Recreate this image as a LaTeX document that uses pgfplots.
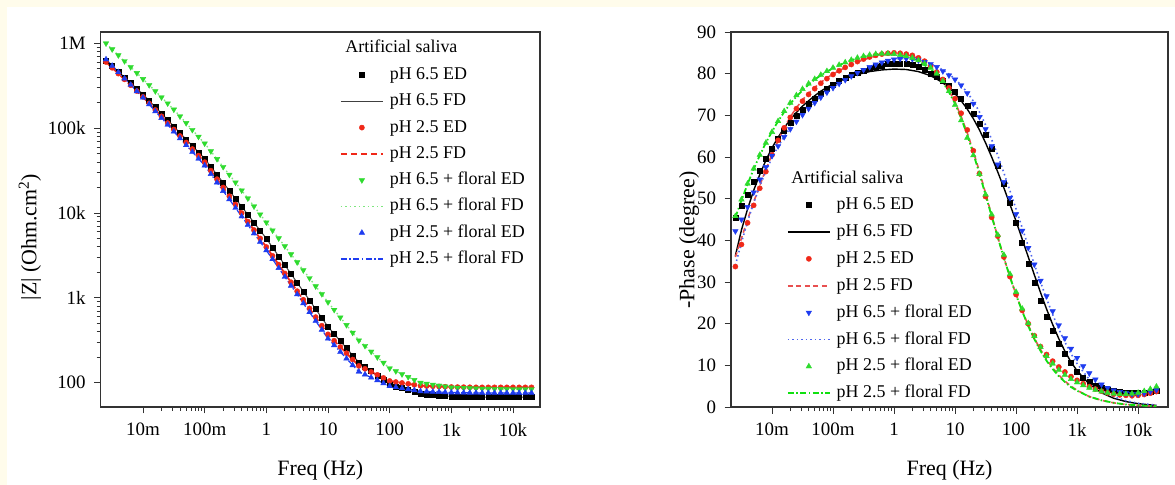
\documentclass[border=0pt]{standalone}
\usepackage{pgfplots}
\pgfplotsset{compat=1.18}
\usepackage{pgfplotstable}
\usepackage{fontspec}
\setmainfont{Liberation Serif}
\definecolor{cream}{HTML}{FFFCEB}
\definecolor{dred}{HTML}{F02818}
\definecolor{dgreen}{HTML}{2EDB2E}
\definecolor{dblue}{HTML}{1E3CF0}
\definecolor{lgreen}{HTML}{7EE67E}
\definecolor{pinkred}{HTML}{E85050}
\definecolor{paleblue}{HTML}{4F66EE}
\definecolor{fitgreen}{HTML}{10E010}
\definecolor{axisgray}{HTML}{333333}

% |Z| (Ohm.cm^2) vs frequency (Hz)
\pgfplotstableread{
f B R G L
2.512e-3 6.31e5 6.03e5 1.00e6 6.46e5
3.162e-3 5.41e5 5.15e5 8.51e5 5.43e5
3.981e-3 4.65e5 4.40e5 7.24e5 4.57e5
5.012e-3 3.98e5 3.76e5 6.17e5 3.85e5
6.310e-3 3.41e5 3.21e5 5.25e5 3.24e5
7.943e-3 2.93e5 2.74e5 4.47e5 2.72e5
1.000e-2 2.51e5 2.34e5 3.80e5 2.29e5
1.259e-2 2.11e5 1.96e5 3.22e5 1.91e5
1.585e-2 1.77e5 1.64e5 2.73e5 1.58e5
1.995e-2 1.49e5 1.38e5 2.31e5 1.32e5
2.512e-2 1.25e5 1.15e5 1.96e5 1.10e5
3.162e-2 1.05e5 9.66e4 1.66e5 9.12e4
3.981e-2 8.79e4 8.09e4 1.38e5 7.59e4
5.012e-2 7.38e4 6.78e4 1.15e5 6.31e4
6.310e-2 6.19e4 5.68e4 9.55e4 5.25e4
7.943e-2 5.20e4 4.75e4 7.94e4 4.37e4
0.1 4.37e4 3.98e4 6.61e4 3.63e4
0.1259 3.52e4 3.16e4 5.35e4 2.88e4
0.1585 2.83e4 2.51e4 4.33e4 2.29e4
0.1995 2.28e4 2.00e4 3.50e4 1.82e4
0.2512 1.84e4 1.58e4 2.83e4 1.45e4
0.3162 1.48e4 1.26e4 2.29e4 1.15e4
0.3981 1.19e4 1.00e4 1.85e4 9.12e3
0.5012 9.59e3 7.94e3 1.49e4 7.24e3
0.6310 7.73e3 6.31e3 1.20e4 5.75e3
0.7943 6.22e3 5.01e3 9.64e3 4.57e3
1 5.01e3 3.98e3 7.76e3 3.63e3
1.259 3.94e3 3.13e3 6.25e3 2.86e3
1.585 3.10e3 2.47e3 5.04e3 2.25e3
1.995 2.44e3 1.94e3 4.06e3 1.77e3
2.512 1.92e3 1.53e3 3.27e3 1.39e3
3.162 1.51e3 1.20e3 2.63e3 1.10e3
3.981 1190 951 2120 863
5.012 938 752 1710 679
6.310 738 594 1370 535
7.943 581 470 1110 421
10 457 372 891 331
12.59 377 313 724 277
15.85 310 264 589 231
19.95 256 223 479 193
25.12 211 188 389 161
31.62 174 158 316 135
39.81 154 146 272 125
50.12 137 134 233 115
63.10 121 124 200 107
79.43 108 114 172 98.6
100 95.5 105 148 91.2
125.9 90.8 102 137 88.7
158.5 86.3 99.5 126 86.3
199.5 82.0 97.1 117 83.9
251.2 78.0 94.6 108 81.7
316.2 74.1 92.3 100 79.4
398.1 73.1 91.6 97.5 78.9
501.2 72.1 91.0 95.1 78.3
631.0 71.1 90.4 92.7 77.8
794.3 70.1 89.7 90.4 77.3
1000 69.2 89.1 88.1 76.7
1259 68.9 88.9 87.5 76.6
1585 68.5 88.7 86.9 76.4
1995 68.2 88.5 86.3 76.2
2512 67.9 88.3 85.7 76.0
3162 67.6 88.3 85.1 75.9
3981 67.6 88.3 84.9 75.9
5012 67.6 88.3 84.7 75.9
6310 67.6 88.3 84.5 75.9
7943 67.6 88.3 84.3 75.9
10000 67.6 88.3 84.1 75.9
12589 67.6 88.3 84.1 75.9
15849 67.6 88.3 84.1 75.9
19953 67.6 88.3 84.1 75.9
}\tabZ

% -Phase (degree), measured (ED)
\pgfplotstableread{
f B R L G
2.512e-3 45.4 33.7 42.2 45.8
3.162e-3 48.4 39.0 45.0 49.8
3.981e-3 51.0 44.2 48.0 53.6
5.012e-3 54.0 48.4 51.5 57.2
6.310e-3 56.8 52.5 54.6 60.5
7.943e-3 59.5 56.5 57.6 63.4
1.000e-2 62.0 60.5 60.3 66.0
1.259e-2 64.5 64.0 62.6 68.6
1.585e-2 66.4 67.0 64.8 71.0
1.995e-2 68.2 69.5 66.7 73.0
2.512e-2 69.8 71.6 68.5 74.8
3.162e-2 71.3 73.4 70.1 76.3
3.981e-2 72.7 75.0 71.6 77.6
5.012e-2 74.0 76.4 73.0 78.7
6.310e-2 75.2 77.7 74.3 79.7
7.943e-2 76.3 78.8 75.5 80.6
0.1 77.3 79.8 76.6 81.4
0.1259 78.2 80.7 77.6 82.1
0.1585 79.0 81.5 78.5 82.7
0.1995 79.7 82.2 79.4 83.3
0.2512 80.3 82.9 80.2 83.8
0.3162 80.8 83.5 80.9 84.2
0.3981 81.3 84.0 81.6 84.5
0.5012 81.7 84.4 82.2 84.7
0.6310 82.0 84.7 82.7 84.8
0.7943 82.3 84.9 83.1 84.8
1 82.5 85.0 83.4 84.7
1.259 82.5 84.9 83.6 84.5
1.585 82.4 84.7 83.6 84.2
1.995 82.1 84.4 83.5 83.8
2.512 81.6 83.8 83.2 83.2
3.162 80.9 83.0 82.8 82.4
3.981 80.1 81.8 82.3 81.4
5.012 79.3 80.4 81.6 80.0
6.310 78.2 78.6 80.6 78.2
7.943 77.0 76.6 79.6 75.8
10 75.6 74.0 78.6 72.5
12.59 74.0 70.5 77.2 68.8
15.85 72.3 66.5 75.3 64.6
19.95 70.3 61.5 72.8 60.4
25.12 68.0 56.0 69.6 55.9
31.62 65.3 50.5 66.7 51.0
39.81 61.9 45.5 62.6 46.2
50.12 58.0 41.0 58.2 41.3
63.10 53.6 36.0 54.0 36.5
79.43 49.0 31.3 50.2 31.9
100 44.3 27.0 46.3 27.6
125.9 39.5 23.2 42.3 23.6
158.5 34.5 20.0 38.2 20.1
199.5 29.8 17.1 34.2 17.0
251.2 25.5 14.5 30.3 14.4
316.2 21.6 12.6 26.6 12.2
398.1 18.2 11.0 23.0 10.4
501.2 15.3 9.6 19.6 8.9
631.0 12.8 8.4 16.5 7.7
794.3 10.7 7.3 14.0 6.7
1000 8.5 6.4 11.8 5.9
1259 7.0 5.6 9.8 5.2
1585 6.0 4.9 8.1 4.6
1995 5.2 4.3 6.6 4.1
2512 4.6 3.8 5.4 3.7
3162 4.2 3.4 4.6 3.4
3981 3.9 3.1 4.0 3.2
5012 3.7 2.9 3.6 3.1
6310 3.5 2.8 3.3 3.1
7943 3.4 2.7 3.1 3.2
10000 3.4 2.8 3.1 3.4
12589 3.5 3.0 3.3 3.8
15849 3.7 3.3 3.7 4.3
19953 4.0 3.7 4.1 4.9
}\tabP

% -Phase (degree), fitted (FD)
\pgfplotstableread{
f B R L G
2.512e-3 36.3 36.0 34.0 45.5
3.162e-3 42.5 40.5 39.5 49.6
3.981e-3 47.5 45.0 44.5 53.5
5.012e-3 52.0 49.2 49.0 57.1
6.310e-3 55.8 53.2 53.0 60.4
7.943e-3 59.2 57.0 56.6 63.4
0.01 62.2 60.6 59.8 66.1
0.01259 64.7 63.9 62.5 68.6
0.01585 67.0 67.0 64.9 70.8
0.01995 69.0 69.6 67.0 72.8
0.02512 70.7 71.8 68.8 74.5
0.03162 72.2 73.7 70.4 76.0
0.03981 73.5 75.3 71.9 77.4
0.05012 74.7 76.7 73.3 78.6
0.06310 75.8 77.9 74.5 79.6
0.07943 76.7 79.0 75.6 80.5
0.1 77.5 79.9 76.7 81.3
0.1585 78.8 81.5 78.6 82.7
0.2512 79.8 82.8 80.3 83.7
0.3981 80.5 83.8 81.7 84.4
0.6310 80.9 84.5 82.8 84.7
1 81.1 84.8 83.5 84.6
1.585 81.0 84.6 83.7 84.1
2.512 80.5 83.7 83.3 83.0
3.981 79.5 81.8 82.4 81.1
5.012 78.7 80.3 81.7 79.7
6.310 77.8 78.4 80.9 77.9
7.943 76.6 76.0 79.9 75.6
10 75.2 73.2 78.7 72.8
12.59 73.5 69.7 77.2 69.3
15.85 71.5 65.8 75.5 65.3
19.95 69.2 61.3 73.4 60.8
25.12 66.5 56.5 70.8 56.0
31.62 63.4 51.3 67.7 50.9
39.81 60.0 46.0 64.2 45.8
50.12 56.4 40.8 60.4 40.7
63.10 52.6 35.8 56.2 35.8
79.43 48.6 31.2 51.9 31.2
100 44.6 27.0 47.5 26.9
125.9 40.3 23.1 43.0 23.0
158.5 36.0 19.6 38.6 19.4
199.5 31.7 16.5 34.2 16.3
251.2 27.5 13.8 30.0 13.5
316.2 23.5 11.4 26.0 11.1
398.1 19.8 9.4 22.2 9.1
501.2 16.4 7.7 18.7 7.4
631.0 13.4 6.2 15.6 6.0
794.3 10.8 5.0 12.8 4.8
1000 8.7 4.0 10.4 3.9
1585 5.5 2.5 6.6 2.5
2512 3.4 1.6 4.1 1.6
3981 2.1 1.0 2.5 1.0
6310 1.3 0.6 1.5 0.6
10000 0.8 0.4 0.9 0.4
15849 0.5 0.25 0.6 0.25
19953 0.4 0.2 0.5 0.2
}\tabF

\pgfplotsset{
  eisbase/.style={
    scale only axis, anchor=south west,
    axis line style={axisgray, line width=1.1bp},
    tick align=outside, xtick pos=bottom, ytick pos=left,
    major tick length=6.5bp, minor tick length=4bp,
    every tick/.style={axisgray, line width=0.9bp},
    tick label style={font=\fontsize{19}{21}\selectfont},
    label style={font=\fontsize{22}{24}\selectfont},
    xtick={0.01,0.1,1,10,100,1000,10000},
    xticklabels={10m,100m,1,10,100,1k,10k},
    xticklabel style={yshift=-6bp},
    yticklabel style={xshift=-5bp},
    xlabel style={at={(axis description cs:0.5,-0.168)}, anchor=center},
    legend cell align=left,
    legend style={draw=none, fill=none, inner sep=0pt, outer sep=0pt,
      anchor=north west, font=\fontsize{18}{20}\selectfont,
      column sep=6bp, nodes={inner sep=0pt, text height=13bp, text depth=4bp}},
  },
  mk/.style={only marks, mark size=#1,
    legend image code/.code={\path (0bp,0bp) (42bp,0bp); \draw[##1] plot coordinates {(21bp,0bp)};}},
  fd/.style={no marks, #1,
    legend image code/.code={\draw[#1] (0bp,0bp) -- (42bp,0bp);}},
}

\begin{document}
\begin{tikzpicture}
\useasboundingbox (0,0) rectangle (1175bp,485bp);
\fill[cream] (0,0) rectangle (1175bp,485bp);
\fill[white] (7bp,0) rectangle (1175bp,478bp);

% ---------------- left: |Z| ----------------
\begin{axis}[xmode=log, ymode=log, eisbase,
  at={(100.7bp,78bp)}, width=439.3bp, height=375bp,
  xmin=0.00206, xmax=27400,
  ymin=51.8, ymax=1.36e6,
  ytick={100,1000,10000,100000,1000000},
  yticklabels={100,1k,10k,100k,1M},
  xlabel={Freq (Hz)},
  ylabel={|Z| (Ohm.cm\textsuperscript{2})},
  ylabel style={at={(axis description cs:-0.161,0.453)}, anchor=center},
  legend style={at={(0.5447,0.908)}, row sep=9.3bp},
]
\addplot[mk=2.5bp, mark=square*, black] table[x=f,y=B] {\tabZ};
\addlegendentry{pH 6.5 ED}
\addplot[fd={draw=black!75, line width=1bp}] table[x=f,y=B] {\tabZ};
\addlegendentry{pH 6.5 FD}
\addplot[mk=2.6bp, mark=*, dred] table[x=f,y=R] {\tabZ};
\addlegendentry{pH 2.5 ED}
\addplot[fd={draw=dred, line width=1.8bp, dash pattern=on 6bp off 4bp}] table[x=f,y=R] {\tabZ};
\addlegendentry{pH 2.5 FD}
\addplot[mk=3.2bp, mark=triangle*, dgreen, mark options={rotate=180}] table[x=f,y=G] {\tabZ};
\addlegendentry{pH 6.5 + floral ED}
\addplot[fd={draw=lgreen, line width=1.3bp, dash pattern=on 1.5bp off 3bp}] table[x=f,y=G] {\tabZ};
\addlegendentry{pH 6.5 + floral FD}
\addplot[mk=3.2bp, mark=triangle*, dblue] table[x=f,y=L] {\tabZ};
\addlegendentry{pH 2.5 + floral ED}
\addplot[fd={draw=dblue, line width=1.2bp, dash pattern=on 6bp off 2.5bp on 1.5bp off 2.5bp}] table[x=f,y=L] {\tabZ};
\addlegendentry{pH 2.5 + floral FD}
\node[anchor=base west, font=\fontsize{18}{20}\selectfont] at (axis description cs:0.549,0.944) {Artificial saliva};
\end{axis}

% ---------------- right: phase ----------------
\begin{axis}[xmode=log, eisbase,
  at={(731bp,78bp)}, width=437bp, height=375bp,
  xmin=0.00213, xmax=30900,
  ymin=0, ymax=90,
  ytick={0,10,20,30,40,50,60,70,80,90},
  yticklabels={0,10,20,30,40,50,60,70,80,90},
  xlabel={Freq (Hz)},
  ylabel={-Phase (degree)},
  ylabel style={at={(axis description cs:-0.096,0.445)}, anchor=center},
  legend style={at={(0.128,0.5613)}, row sep=9.9bp},
]
\addplot[mk=2.5bp, mark=square*, black] table[x=f,y=B] {\tabP};
\addlegendentry{pH 6.5 ED}
\addplot[fd={draw=black, line width=1.4bp}] table[x=f,y=B] {\tabF};
\addlegendentry{pH 6.5 FD}
\addplot[mk=2.6bp, mark=*, dred] table[x=f,y=R] {\tabP};
\addlegendentry{pH 2.5 ED}
\addplot[fd={draw=pinkred, line width=1.6bp, dash pattern=on 5bp off 3.5bp}] table[x=f,y=R] {\tabF};
\addlegendentry{pH 2.5 FD}
\addplot[mk=3.2bp, mark=triangle*, dblue, mark options={rotate=180}] table[x=f,y=L] {\tabP};
\addlegendentry{pH 6.5 + floral ED}
\addplot[fd={draw=paleblue, line width=1.6bp, dash pattern=on 1.5bp off 3bp}] table[x=f,y=L] {\tabF};
\addlegendentry{pH 6.5 + floral FD}
\addplot[mk=3.2bp, mark=triangle*, dgreen] table[x=f,y=G] {\tabP};
\addlegendentry{pH 2.5 + floral ED}
\addplot[fd={draw=fitgreen, line width=1.8bp, dash pattern=on 6bp off 2.5bp on 1.5bp off 2.5bp}] table[x=f,y=G] {\tabF};
\addlegendentry{pH 2.5 + floral FD}
\node[anchor=base west, font=\fontsize{18}{20}\selectfont] at (axis description cs:0.130,0.597) {Artificial saliva};
\end{axis}
\end{tikzpicture}
\end{document}
